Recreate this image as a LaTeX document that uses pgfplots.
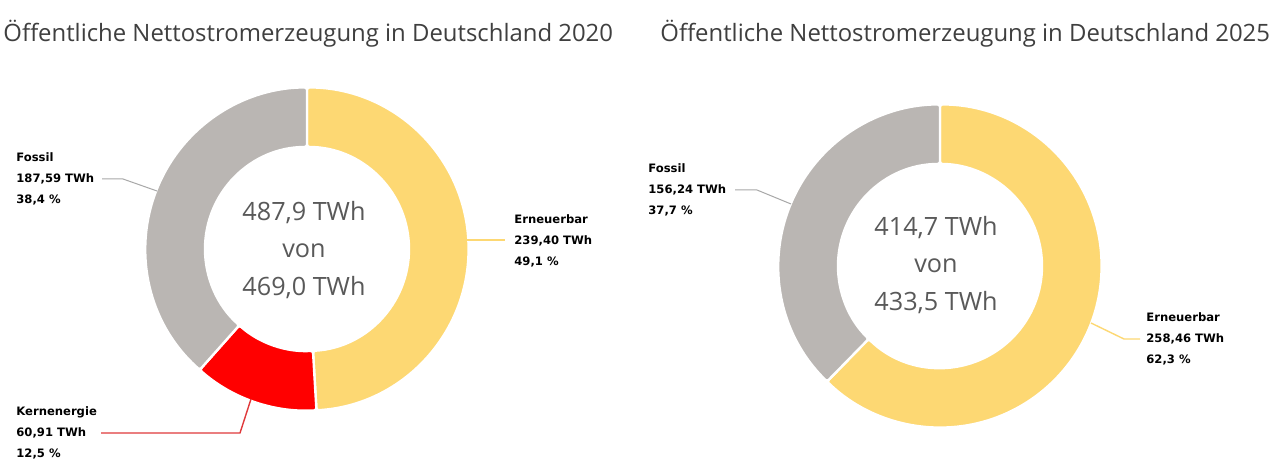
\documentclass[border=0pt]{standalone}
\usepackage{pgfplots}
\pgfplotsset{compat=1.18}
\usepackage{pgfplotstable}
\usepackage{fontspec}
\setmainfont{Open Sans}
\newfontfamily\lblfont{DejaVu Sans}
\usetikzlibrary{calc}

\definecolor{cYellow}{HTML}{FDD873}
\definecolor{cGray}{HTML}{BAB6B3}
\definecolor{cRed}{HTML}{FF0000}
\definecolor{cTitle}{HTML}{3F3F3F}
\definecolor{cCenter}{HTML}{595959}
\definecolor{cLineGray}{HTML}{A8A8A8}
\definecolor{cLineRed}{HTML}{E0393B}

% 2020
\pgfplotstableread{
label value pct
Erneuerbar 239.40 49.1
Kernenergie 60.91 12.5
Fossil 187.59 38.4
}\dataA
% 2025
\pgfplotstableread{
label value pct
Erneuerbar 258.46 62.3
Fossil 156.24 37.7
}\dataB

\pgfplotstablegetelem{0}{value}\of\dataA \let\vAa\pgfplotsretval
\pgfplotstablegetelem{1}{value}\of\dataA \let\vAb\pgfplotsretval
\pgfplotstablegetelem{2}{value}\of\dataA \let\vAc\pgfplotsretval
\pgfplotstablegetelem{0}{value}\of\dataB \let\vBa\pgfplotsretval
\pgfplotstablegetelem{1}{value}\of\dataB \let\vBb\pgfplotsretval

\pgfmathsetmacro\totA{\vAa+\vAb+\vAc}
\pgfmathsetmacro\aAb{90-360*(\vAa/\totA)}
\pgfmathsetmacro\aAc{\aAb-360*(\vAb/\totA)}
\pgfmathsetmacro\aAd{\aAc-360*(\vAc/\totA)}
\pgfmathsetmacro\totB{\vBa+\vBb}
\pgfmathsetmacro\aBb{90-360*(\vBa/\totB)}
\pgfmathsetmacro\aBc{\aBb-360*(\vBb/\totB)}

% slice: cx, cy, start angle, end angle, color
\newcommand{\slice}[5]{%
  \fill[#5, draw=white, line width=1.2pt, rounded corners=1.2pt]
    ($(axis cs:#1,#2)+(#3:80.8pt)$) arc[start angle=#3, end angle=#4, radius=80.8pt]
    -- ($(axis cs:#1,#2)+(#4:51pt)$) arc[start angle=#4, end angle=#3, radius=51pt] -- cycle;}

\newcommand{\lbl}{\lblfont\fontsize{5.8}{10.4}\selectfont\bfseries}

\begin{document}
\begin{tikzpicture}
\begin{axis}[
  scale only axis, width=640pt, height=235pt,
  xmin=0, xmax=1280, ymin=0, ymax=470, y dir=reverse,
  hide axis, clip=false, at={(0,0)}]
  \fill[white] (axis cs:0,0) rectangle (axis cs:1280,470);

  % titles
  \node[anchor=base west, inner sep=0, text=cTitle, font=\fontsize{11.95}{13}\selectfont]
    at (axis cs:3,42) {Öffentliche Nettostromerzeugung in Deutschland 2020};
  \node[anchor=base west, inner sep=0, text=cTitle, font=\fontsize{11.95}{13}\selectfont]
    at (axis cs:660,42) {Öffentliche Nettostromerzeugung in Deutschland 2025};

  % donut 2020
  \slice{307}{249}{90}{\aAb}{cYellow}
  \slice{307}{249}{\aAb}{\aAc}{cRed}
  \slice{307}{249}{\aAc}{\aAd}{cGray}

  % donut 2025
  \slice{940}{266}{90}{\aBb}{cYellow}
  \slice{940}{266}{\aBb}{\aBc}{cGray}

  % center texts
  \node[align=center, text=cCenter, font=\fontsize{12.6}{18.6}\selectfont, inner sep=0]
    at (axis cs:304,250) {487,9 TWh\\von\\469,0 TWh};
  \node[align=center, text=cCenter, font=\fontsize{12.6}{18.6}\selectfont, inner sep=0]
    at (axis cs:936,265) {414,7 TWh\\von\\433,5 TWh};

  % leader lines
  \draw[cLineGray, line width=0.5pt] (axis cs:102,179) -- (axis cs:123,179) -- (axis cs:157,191);
  \draw[cYellow, line width=0.7pt] (axis cs:467,240) -- (axis cs:505,240);
  \draw[cLineRed, line width=0.7pt] (axis cs:101,433) -- (axis cs:240,433) -- (axis cs:251,399);
  \draw[cLineGray, line width=0.5pt] (axis cs:735,190) -- (axis cs:757,190) -- (axis cs:791,204);
  \draw[cYellow, line width=0.7pt] (axis cs:1091,323) -- (axis cs:1124,339) -- (axis cs:1140,339);

  % labels
  \node[anchor=west, align=left, inner sep=0, font=\lbl] at (axis cs:16,179)
    {Fossil\\187,59 TWh\\38,4 \%};
  \node[anchor=west, align=left, inner sep=0, font=\lbl] at (axis cs:514,241)
    {Erneuerbar\\239,40 TWh\\49,1 \%};
  \node[anchor=west, align=left, inner sep=0, font=\lbl] at (axis cs:16,433)
    {Kernenergie\\60,91 TWh\\12,5 \%};
  \node[anchor=west, align=left, inner sep=0, font=\lbl] at (axis cs:648,190)
    {Fossil\\156,24 TWh\\37,7 \%};
  \node[anchor=west, align=left, inner sep=0, font=\lbl] at (axis cs:1146,339)
    {Erneuerbar\\258,46 TWh\\62,3 \%};
\end{axis}
\end{tikzpicture}
\end{document}
